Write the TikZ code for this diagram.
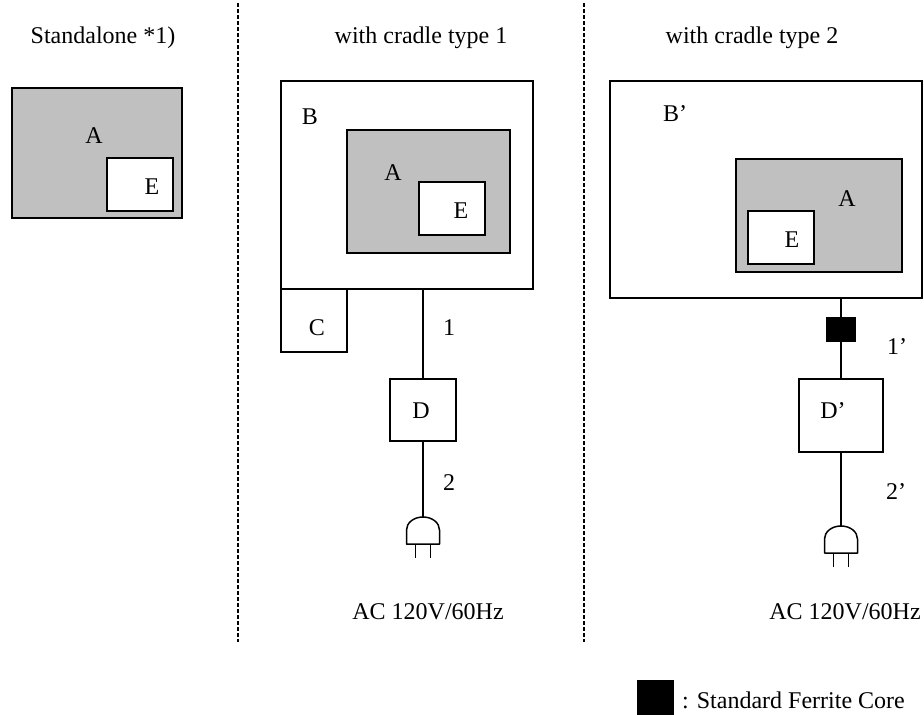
\documentclass[tikz,border=0pt]{standalone}
\usepackage{fontspec}
\setmainfont{Liberation Serif}
\definecolor{boxgrey}{RGB}{192,192,192}
\tikzset{
  boxstyle/.style={draw=black, line width=1.5pt, rectangle, inner sep=0pt, outer sep=0pt},
  greybox/.style={boxstyle, fill=boxgrey},
  whitebox/.style={boxstyle, fill=white},
  txt/.style={font=\fontsize{24}{28}\selectfont, inner sep=0pt, anchor=base},
  wire/.style={draw=black, line width=1.5pt},
  divider/.style={draw=black, line width=1.5pt, dash pattern=on 4pt off 2pt},
  plugline/.style={draw=black, line width=1.5pt, line join=round}
}
\newcommand{\myplugdraw}[1]{%
  \draw[plugline] ([xshift=-16.5pt,yshift=-27pt]#1) -- ([xshift=-16.5pt,yshift=-13pt]#1)
    .. controls ([xshift=-16.5pt,yshift=-6pt]#1) and ([xshift=-9.5pt]#1) .. (#1)
    .. controls ([xshift=9.5pt]#1) and ([xshift=16.5pt,yshift=-6pt]#1) .. ([xshift=16.5pt,yshift=-13pt]#1)
    -- ([xshift=16.5pt,yshift=-27pt]#1) -- cycle;
  \draw[plugline] ([xshift=-7.5pt,yshift=-27pt]#1) -- ([xshift=-7.5pt,yshift=-41pt]#1);
  \draw[plugline] ([xshift=7.5pt,yshift=-27pt]#1) -- ([xshift=7.5pt,yshift=-41pt]#1);
}
\begin{document}
\begin{tikzpicture}[x=1pt,y=-1pt]
\useasboundingbox (0,0) rectangle (924,715);

% dividers
\draw[divider] (238,3) -- (238,642);
\draw[divider] (584,3) -- (584,642);

% headers
\node[txt] (h0) at (103,43) {Standalone *1)};
\node[txt] (h1) at (421,43) {with cradle type 1};
\node[txt] (h2) at (752,43) {with cradle type 2};

% standalone
\node[greybox, minimum width=170pt, minimum height=130pt] (A0) at (97,153) {};
\node[whitebox, minimum width=66pt, minimum height=53pt] (E0) at (140,184.5) {};
\node[txt] (lA0) at (94,143) {A};
\node[txt] (lE0) at (152,194) {E};

% cradle type 1
\node[whitebox, minimum width=252pt, minimum height=208pt] (B1) at (407,185) {};
\node[greybox, minimum width=163pt, minimum height=123pt] (A1) at (428.5,191.5) {};
\node[whitebox, minimum width=66pt, minimum height=53pt] (E1) at (452,208.5) {};
\node[whitebox, minimum width=66pt, minimum height=63pt] (C1) at (314,320.5) {};
\node[whitebox, minimum width=66pt, minimum height=62pt] (D1) at (423,410) {};
\coordinate (P1) at (423,517);
\node[txt] (lB1) at (310,124) {B};
\node[txt] (lA1) at (393,180) {A};
\node[txt] (lE1) at (461,218) {E};
\node[txt] (lC1) at (317,335) {C};
\node[txt] (l11) at (449,335) {1};
\node[txt] (lD1) at (421,418) {D};
\node[txt] (l21) at (449,490) {2};
\node[txt] (ac1) at (428,619) {AC 120V/60Hz};
\draw[wire] (D1.north |- B1.south) -- (D1.north);
\draw[wire] (D1.south) -- (P1);
\myplugdraw{P1}

% cradle type 2
\node[whitebox, minimum width=312pt, minimum height=217pt] (B2) at (766,189.5) {};
\node[greybox, minimum width=166pt, minimum height=113pt] (A2) at (819,215.5) {};
\node[whitebox, minimum width=66pt, minimum height=53pt] (E2) at (781,237.5) {};
\node[boxstyle, fill=black, minimum width=28pt, minimum height=23pt] (F2) at (841,329.5) {};
\node[whitebox, minimum width=84pt, minimum height=73pt] (D2) at (841,415.5) {};
\coordinate (P2) at (841,526);
\node[txt] (lB2) at (675,121) {B’};
\node[txt] (lA2) at (847,206) {A};
\node[txt] (lE2) at (792,247) {E};
\node[txt] (l12) at (897,354) {1’};
\node[txt] (lD2) at (833,418) {D’};
\node[txt] (l22) at (896,499) {2’};
\node[txt] (ac2) at (845,619) {AC 120V/60Hz};
\draw[wire] (F2.north |- B2.south) -- (F2.north);
\draw[wire] (F2.south) -- (D2.north);
\draw[wire] (D2.south) -- (P2);
\myplugdraw{P2}

% legend
\node[boxstyle, fill=black, minimum width=35pt, minimum height=35pt] (leg) at (655.5,698.5) {};
\node[txt, anchor=base west] (legtxt) at (682,708) {: Standard Ferrite Core};
\end{tikzpicture}
\end{document}
